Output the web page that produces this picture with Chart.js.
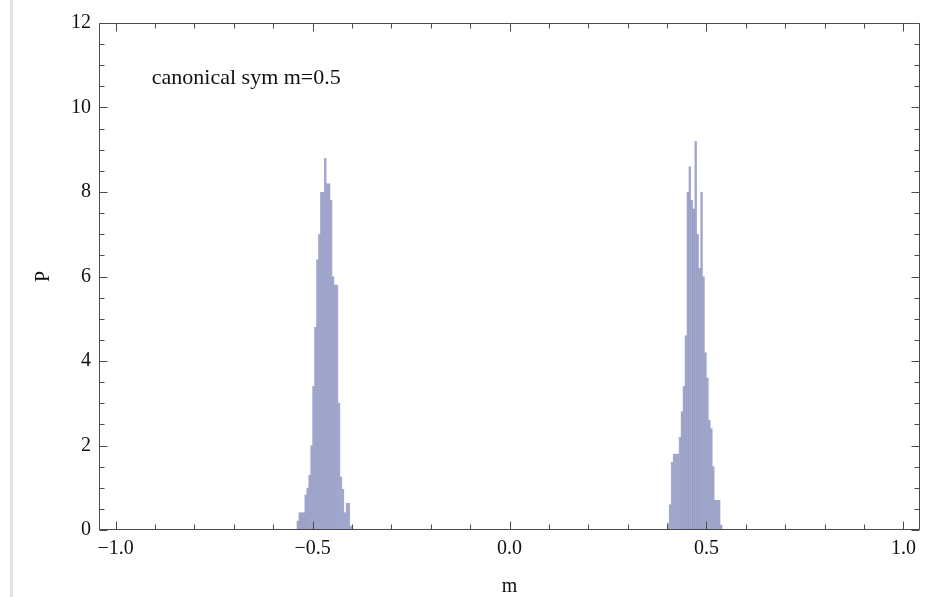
<!DOCTYPE html>
<html>
<head>
<meta charset="utf-8">
<script src="https://cdn.jsdelivr.net/npm/chart.js@4.4.1/dist/chart.umd.min.js"></script>
<style>
  html, body { margin: 0; padding: 0; background: #fff; }
  #wrap { position: relative; width: 943px; height: 597px; }
  #edge { position: absolute; left: 10px; top: 0; width: 3px; height: 597px; background: #e3e3e3; }
  canvas { position: absolute; left: 0; top: 0; }
</style>
</head>
<body>
<div id="wrap">
  <div id="edge"></div>
  <canvas id="c" width="943" height="597"></canvas>
</div>
<script>
// ---- data ----
const binWidth = 0.005;
const leftStart = -0.540;
const leftCounts = [0.22, 0.41, 0.41, 0.41, 0.83, 1.0, 1.3, 2.0, 3.4, 4.8, 6.4, 7.0, 8.0, 8.0,
                    8.8, 8.2, 8.2, 7.8, 6.0, 5.8, 5.8, 3.0, 1.26, 0.97, 0.41, 0.64, 0.64, 0.1];
const rightStart = 0.400;
const rightCounts = [0.17, 0.6, 1.6, 1.8, 1.8, 1.8, 2.2, 2.8, 3.4, 4.6, 8.0, 8.6, 7.8, 7.6,
                     9.2, 7.0, 6.2, 8.0, 6.0, 4.2, 3.6, 2.6, 2.4, 1.5, 0.7, 0.7, 0.7, 0.12];
const xTickValues = [-1.0, -0.5, 0.0, 0.5, 1.0];
const xTickLabels = ['\u22121.0', '\u22120.5', '0.0', '0.5', '1.0'];
const yTickValues = [0, 2, 4, 6, 8, 10, 12];
const yTickLabels = ['0', '2', '4', '6', '8', '10', '12'];
const xMinorStep = 0.1;
const yMinorStep = 0.5;
const annotation = 'canonical sym m=0.5';
const xTitle = 'm';
const yTitle = 'P';

function toPoints(start, counts) {
  return counts.map((c, i) => ({ x: start + (i + 0.5) * binWidth, y: c }));
}
const points = toPoints(leftStart, leftCounts).concat(toPoints(rightStart, rightCounts));

const serif = '"Liberation Serif", "DejaVu Serif", serif';
const frameColor = '#4a4a4a';

const framePlugin = {
  id: 'frame',
  afterDatasetsDraw(chart) {
    const { ctx, chartArea: a, scales: { x, y } } = chart;
    ctx.save();
    ctx.strokeStyle = frameColor;
    ctx.lineWidth = 1;
    const L = Math.round(a.left) + 0.5, R = Math.round(a.right) - 0.5;
    const T = Math.round(a.top) + 0.5, B = Math.round(a.bottom) - 0.5;
    ctx.beginPath();
    ctx.rect(L, T, R - L, B - T);
    ctx.stroke();
    const majorLen = 8, minorLen = 5;
    ctx.beginPath();
    const xmin = xTickValues[0], xmax = xTickValues[xTickValues.length - 1];
    for (let k = 0; xmin + k * xMinorStep <= xmax + 1e-9; k++) {
      const v = xmin + k * xMinorStep;
      const isMajor = xTickValues.some(t => Math.abs(t - v) < 1e-9);
      const len = isMajor ? majorLen : minorLen;
      const px = Math.round(x.getPixelForValue(v)) + 0.5;
      ctx.moveTo(px, B); ctx.lineTo(px, B - len);
      ctx.moveTo(px, T); ctx.lineTo(px, T + len);
    }
    const ymin = yTickValues[0], ymax = yTickValues[yTickValues.length - 1];
    for (let k = 0; ymin + k * yMinorStep <= ymax + 1e-9; k++) {
      const v = ymin + k * yMinorStep;
      const isMajor = yTickValues.some(t => Math.abs(t - v) < 1e-9);
      const len = isMajor ? majorLen : minorLen;
      const py = Math.round(y.getPixelForValue(v)) + 0.5;
      ctx.moveTo(L, py); ctx.lineTo(L + len, py);
      ctx.moveTo(R, py); ctx.lineTo(R - len, py);
    }
    ctx.stroke();
    ctx.fillStyle = '#111';
    ctx.font = '22px ' + serif;
    ctx.textBaseline = 'middle';
    ctx.textAlign = 'left';
    ctx.fillText(annotation, x.getPixelForValue(-0.908), y.getPixelForValue(10.7));
    ctx.restore();
  }
};

new Chart(document.getElementById('c'), {
  type: 'bar',
  data: {
    datasets: [{
      data: points,
      backgroundColor: 'rgb(160,167,206)',
      borderColor: 'rgba(105,111,158,0.55)',
      borderWidth: 0.5,
      categoryPercentage: 1.0,
      barPercentage: 1.0
    }]
  },
  options: {
    responsive: false,
    animation: false,
    devicePixelRatio: 1,
    layout: { padding: { left: 0, right: 23, top: 23, bottom: 0 } },
    plugins: { legend: { display: false }, tooltip: { enabled: false } },
    scales: {
      x: {
        type: 'linear',
        min: -1.042,
        max: 1.042,
        offset: false,
        grid: { display: false, drawTicks: false },
        border: { display: false },
        afterBuildTicks(scale) { scale.ticks = xTickValues.map(v => ({ value: v })); },
        afterFit(scale) { scale.height = 67; },
        ticks: {
          autoSkip: false,
          maxRotation: 0,
          padding: 7,
          color: '#111',
          font: { family: serif, size: 20 },
          callback(v) { const i = xTickValues.findIndex(t => Math.abs(t - v) < 1e-9); return i >= 0 ? xTickLabels[i] : ''; }
        },
        title: { display: true, text: xTitle, color: '#111', font: { family: serif, size: 20 }, padding: { top: 0, bottom: -2 } }
      },
      y: {
        type: 'linear',
        min: 0,
        max: 12,
        grid: { display: false, drawTicks: false },
        border: { display: false },
        afterBuildTicks(scale) { scale.ticks = yTickValues.map(v => ({ value: v })); },
        afterFit(scale) { scale.width = 99; },
        ticks: {
          autoSkip: false,
          padding: 8,
          color: '#111',
          font: { family: serif, size: 20 },
          callback(v) { const i = yTickValues.indexOf(v); return i >= 0 ? yTickLabels[i] : ''; }
        },
        title: { display: true, text: yTitle, color: '#111', font: { family: serif, size: 20 }, padding: { top: 32, bottom: 0 } }
      }
    }
  },
  plugins: [framePlugin]
});
</script>
</body>
</html>
